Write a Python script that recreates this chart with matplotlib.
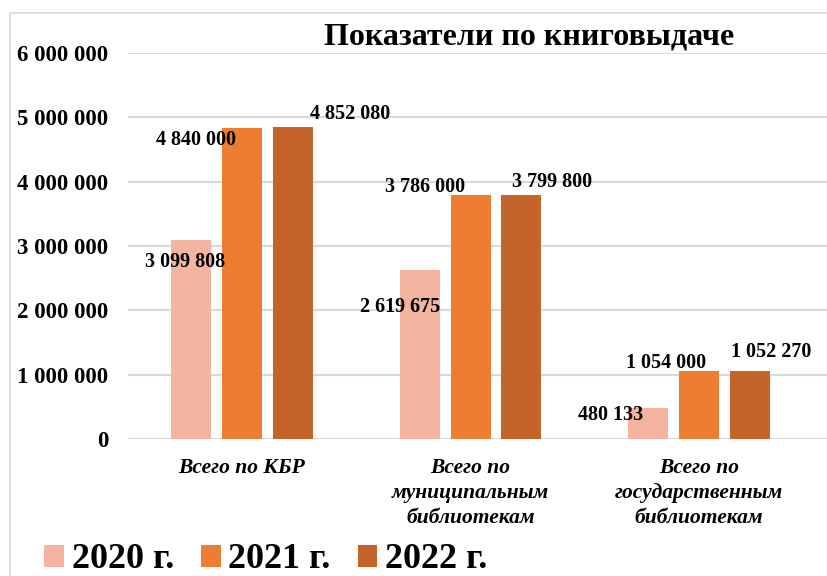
import numpy as np
import matplotlib.pyplot as plt
from matplotlib.patches import Rectangle
from matplotlib.ticker import FuncFormatter

categories = ['Всего по КБР', 'Всего по\nмуниципальным\nбиблиотекам',
              'Всего по\nгосударственным\nбиблиотекам']
years = ['2020 г.', '2021 г.', '2022 г.']
v2020 = [3099808, 2619675, 480133]
v2021 = [4840000, 3786000, 1054000]
v2022 = [4852080, 3799800, 1052270]
colors = ['#F3B5A0', '#ED7D31', '#C4642A']

# сдвиг подписей (в точках) относительно вершины столбца
offsets = [
    [(-4, -16), (-14, -26), (-27, -5)],
    [(-33, -9), (-33, 6), (-24, 6)],
    [(41, 9), (22, 9), (15, 14)],
]

plt.rcParams['font.family'] = ['Liberation Serif', 'DejaVu Serif']

fig = plt.figure(figsize=(8.27, 5.76), dpi=100)
fig.patches.append(Rectangle((10 / 827, -0.01), 1.0, 1 - 13 / 576 + 0.01,
                             transform=fig.transFigure, fill=False,
                             edgecolor='#D9D9D9', linewidth=1.2))
ax = fig.add_axes([128 / 827, 1 - 439 / 576, 1 - 128 / 827, (439 - 53) / 576])

x = np.arange(len(categories))
step = 0.223
width = 0.175
series = [v2020, v2021, v2022]
for i, vals in enumerate(series):
    bars = ax.bar(x + (i - 1) * step, vals, width, color=colors[i],
                  label=years[i], zorder=3)
    for j, b in enumerate(bars):
        lbl = f'{vals[j]:,}'.replace(',', ' ')
        ax.annotate(lbl, (b.get_x() + b.get_width() / 2, b.get_height()),
                    xytext=offsets[i][j], textcoords='offset points',
                    ha='center', va='center', fontsize=14.5,
                    fontweight='bold', zorder=4)

ax.set_xlim(-0.499, 2.56)
ax.set_ylim(0, 6000000)
ax.set_yticks(np.arange(0, 6000001, 1000000))
ax.yaxis.set_major_formatter(FuncFormatter(lambda v, p: f'{int(v):,}'.replace(',', ' ')))
ax.set_xticks(x)
ax.set_xticklabels(categories, fontsize=15.5, fontstyle='italic',
                   fontweight='bold', linespacing=1.32)
ax.tick_params(axis='y', length=0, pad=14, labelsize=16.5)
ax.tick_params(axis='x', length=0, pad=14)
for lab in ax.get_yticklabels():
    lab.set_fontweight('bold')
ax.grid(axis='y', color='#D9D9D9', linewidth=1.5, zorder=0)
for s in ax.spines.values():
    s.set_visible(False)

fig.text(529 / 827, 1 - 37 / 576, 'Показатели по книговыдаче',
         ha='center', va='center', fontsize=23, fontweight='bold')

fig.legend(loc='center left', bbox_to_anchor=(30 / 827, 1 - 560 / 576),
           ncol=3, frameon=False, prop={'size': 26, 'weight': 'bold'},
           handlelength=0.55, handleheight=0.55, handletextpad=0.2,
           columnspacing=0.75, borderaxespad=0)

fig.savefig('out.png', dpi=100)
